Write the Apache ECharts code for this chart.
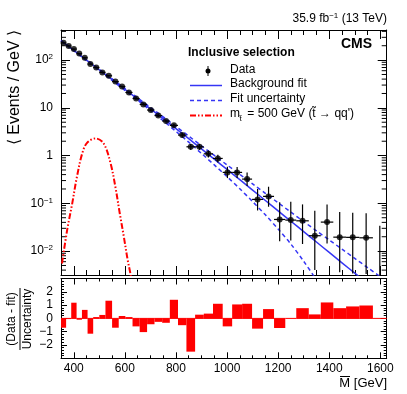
<!DOCTYPE html>
<html><head><meta charset="utf-8">
<script src="https://cdn.jsdelivr.net/npm/echarts@6/dist/echarts.min.js"></script>
<style>html,body{margin:0;padding:0;background:#fff}#c{width:407px;height:394px}</style>
</head><body><div id="c"></div>
<script>
// ---------- data ----------
const binEdges = [350, 370, 390, 411, 432, 454, 476, 500, 524, 550, 576, 602, 630, 658, 687, 716, 746, 776, 808, 841, 875, 909, 945, 983, 1020, 1059, 1098, 1141, 1184, 1228, 1271, 1320, 1367, 1416, 1466, 1518, 1571, 1625];
const dataVals = [230, 198, 170, 137, 112, 82.5, 70, 55.2, 47, 35.5, 28, 21, 15.7, 11.8, 9.0, 6.9, 5.3, 4.3, 2.69, 1.53, 1.53, 1.09, 0.873, 0.445, 0.445, 0.322, 0.121, 0.140, 0.046, 0.0446, 0.0431, 0.021, 0.0405, 0.0196, 0.0194, 0.019, 0];
const errDown = [3.4, 3.15, 2.85, 2.55, 2.26, 1.94, 1.71, 1.52, 1.34, 1.17, 1.04, 0.87, 0.75, 0.64, 0.56, 0.48, 0.42, 0.37, 0.285, 0.212, 0.212, 0.174, 0.152, 0.107, 0.105, 0.092, 0.050, 0.055, 0.030, 0.028, 0.029, 0.017, 0.026, 0.016, 0.016, 0.0157, 0];
const errUp = [3.4, 3.15, 2.85, 2.55, 2.26, 1.94, 1.71, 1.52, 1.34, 1.17, 1.04, 0.87, 0.75, 0.64, 0.56, 0.48, 0.42, 0.37, 0.3, 0.23, 0.23, 0.19, 0.17, 0.138, 0.133, 0.12, 0.079, 0.083, 0.060, 0.063, 0.052, 0.049, 0.054, 0.046, 0.044, 0.043, 0.034];
const pulls = [-0.7, -0.05, 1.18, -0.1, 0.64, -1.15, 0.1, 0.26, 1.33, -0.7, 0.18, 0.1, -0.6, -1.03, -0.44, -0.26, -0.33, 1.4, -0.51, -2.5, 0.28, 0.36, 1.1, -0.6, 1.05, 1.1, -0.77, 0.7, -0.72, 0, 0.77, 0.3, 1.2, 0.77, 0.9, 0.97, 0];

const fitMass = [350, 400, 450, 500, 550, 600, 650, 700, 750, 800, 850, 900, 950, 1000, 1050, 1100, 1150, 1200, 1250, 1300, 1350, 1400, 1450, 1500, 1550, 1600, 1650];
const fitVals = [254, 160, 100, 62.4, 39.1, 24.5, 15.3, 9.55, 5.96, 3.67, 2.26, 1.38, 0.841, 0.513, 0.313, 0.190, 0.115, 0.0695, 0.0422, 0.0256, 0.0155, 0.00938, 0.00569, 0.00345, 0.00209, 0.00126, 0.00077];
const fitUpVals = [260, 164, 102.8, 64.6, 40.7, 25.7, 16.2, 10.2, 6.50, 4.07, 2.57, 1.60, 1.01, 0.638, 0.403, 0.256, 0.162, 0.103, 0.0653, 0.0415, 0.0266, 0.0171, 0.0110, 0.00705, 0.00452, 0.0029, 0.00186];
const fitDownMass = [350, 400, 450, 500, 550, 600, 650, 700, 750, 800, 850, 900, 950, 1000, 1050, 1100, 1150, 1200, 1250, 1300, 1350, 1400];
const fitDownVals = [248, 157, 97.3, 60.3, 37.5, 23.3, 14.4, 8.81, 5.37, 3.21, 1.91, 1.11, 0.638, 0.363, 0.202, 0.109, 0.0575, 0.029, 0.0140, 0.00614, 0.00245, 0.000836];

const sigMass = [354, 374, 394, 411, 433, 452, 485, 517, 544, 563, 580, 596, 611, 622, 632];
const sigVals = [0.0055, 0.0275, 0.1, 0.33, 1.11, 1.85, 2.29, 1.8, 0.69, 0.22, 0.062, 0.020, 0.0065, 0.0033, 0.0015];

const xLabelTicks = [400, 600, 800, 1000, 1200, 1400, 1600];
const xMinorTicks = [350, 400, 450, 500, 550, 600, 650, 700, 750, 800, 850, 900, 950, 1000, 1050, 1100, 1150, 1200, 1250, 1300, 1350, 1400, 1450, 1500, 1550, 1600];
const yMinorTicks = [0.004, 0.005, 0.006, 0.007, 0.008, 0.009, 0.02, 0.03, 0.04, 0.05, 0.06, 0.07, 0.08, 0.09, 0.2, 0.3, 0.4, 0.5, 0.6, 0.7, 0.8, 0.9, 2, 3, 4, 5, 6, 7, 8, 9, 20, 30, 40, 50, 60, 70, 80, 90, 200, 300, 400];
const pullLabels = [-2, -1, 0, 1, 2];

// ---------- chart ----------
const FONT = '"Liberation Sans", Arial, Helvetica, sans-serif';
const X_MIN = 350, X_MAX = 1625, Y_MIN = 0.00316, Y_MAX = 427;
const BLUE = '#3535f5', RED = '#ff0000';

const centers = dataVals.map((v, i) => (binEdges[i] + binEdges[i + 1]) / 2);
const errData = dataVals.map((v, i) => [binEdges[i], binEdges[i + 1], centers[i], v, v - errDown[i], v + errUp[i]]);
const pointData = dataVals.map((v, i) => [centers[i], v]).filter(d => d[1] > 0);
const pullData = pulls.map((p, i) => [binEdges[i], binEdges[i + 1], p]);

function xAxisDef(gridIndex, position, tickVals, tickLen, showLine, labelVals) {
  return {
    type: 'value', gridIndex, position, min: X_MIN, max: X_MAX,
    axisLine: { show: showLine, onZero: false, lineStyle: { color: '#000', width: 1 } },
    axisTick: { show: true, inside: true, length: tickLen, customValues: tickVals, lineStyle: { color: '#000', width: 1 } },
    axisLabel: labelVals ? { show: true, customValues: labelVals, color: '#000', fontSize: 12, fontFamily: FONT, margin: 4,
      formatter: v => String(v) } : { show: false },
    splitLine: { show: false }
  };
}
function yLogDef(position, showLabels) {
  return {
    type: 'log', logBase: 10, gridIndex: 0, position, min: Y_MIN, max: Y_MAX,
    axisLine: { show: true, onZero: false, lineStyle: { color: '#000', width: 1 } },
    axisTick: { show: true, inside: true, length: 9, lineStyle: { color: '#000', width: 1 } },
    axisLabel: showLabels ? {
      show: true, showMinLabel: false, showMaxLabel: false, margin: 8, color: '#000',
      formatter: function (v) {
        const e = Math.round(Math.log10(v));
        if (e === 0) return '{b|1}';
        if (e === 1) return '{b|10}';
        return '{b|10}{s|' + (e < 0 ? '\u2212' : '') + Math.abs(e) + '}';
      },
      rich: {
        b: { fontSize: 12, fontFamily: FONT, color: '#000', lineHeight: 14 },
        s: { fontSize: 8, fontFamily: FONT, color: '#000', verticalAlign: 'top', lineHeight: 9 }
      }
    } : { show: false },
    splitLine: { show: false }
  };
}
function yPullDef(position, showLabels) {
  return {
    type: 'value', gridIndex: 1, position, min: -3, max: 3, interval: 1,
    axisLine: { show: true, onZero: false, lineStyle: { color: '#000', width: 1 } },
    axisTick: { show: true, inside: true, length: 6, lineStyle: { color: '#000', width: 1 } },
    minorTick: { show: true, splitNumber: 5, length: 3, lineStyle: { color: '#000', width: 1 } },
    axisLabel: showLabels ? { show: true, customValues: pullLabels, color: '#000', fontSize: 12, fontFamily: FONT, margin: 8,
      formatter: v => (v < 0 ? '\u2212' + (-v) : '' + v) } : { show: false },
    splitLine: { show: false }
  };
}

const option = {
  animation: false,
  backgroundColor: '#fff',
  textStyle: { fontFamily: FONT },
  grid: [
    { left: 61, top: 30, width: 325.7, height: 245 },
    { left: 61, top: 278.5, width: 325.7, height: 79.8 }
  ],
  xAxis: [
    xAxisDef(0, 'bottom', xMinorTicks, 5, true, null),
    xAxisDef(0, 'bottom', xLabelTicks, 9, false, null),
    xAxisDef(0, 'top', xMinorTicks, 5, true, null),
    xAxisDef(0, 'top', xLabelTicks, 9, false, null),
    xAxisDef(1, 'bottom', xMinorTicks, 3, true, xLabelTicks),
    xAxisDef(1, 'bottom', xLabelTicks, 6, false, null),
    xAxisDef(1, 'top', xMinorTicks, 3, true, null),
    xAxisDef(1, 'top', xLabelTicks, 6, false, null)
  ],
  yAxis: [
    yLogDef('left', true),
    yLogDef('right', false),
    yPullDef('left', true),
    yPullDef('right', false)
  ],
  series: [
    { // log minor ticks on both sides
      type: 'custom', xAxisIndex: 0, yAxisIndex: 0, silent: true, z: 1,
      data: yMinorTicks.map(v => [X_MIN, v]),
      encode: { x: 0, y: 1 },
      renderItem: function (params, api) {
        const cs = params.coordSys;
        const p = api.coord([X_MIN, api.value(1)]);
        if (p[1] < cs.y || p[1] > cs.y + cs.height) return null;
        return { type: 'group', children: [
          { type: 'line', shape: { x1: cs.x, y1: p[1], x2: cs.x + 5, y2: p[1] }, style: { stroke: '#000', lineWidth: 1 } },
          { type: 'line', shape: { x1: cs.x + cs.width - 5, y1: p[1], x2: cs.x + cs.width, y2: p[1] }, style: { stroke: '#000', lineWidth: 1 } }
        ] };
      }
    },
    { type: 'line', name: 'Fit uncertainty up', xAxisIndex: 0, yAxisIndex: 0, showSymbol: false, silent: true, clip: true,
      data: fitMass.map((m, i) => [m, fitUpVals[i]]), smooth: 0.3,
      lineStyle: { color: BLUE, width: 1.5, type: [4, 3] } },
    { type: 'line', name: 'Fit uncertainty down', xAxisIndex: 0, yAxisIndex: 0, showSymbol: false, silent: true, clip: true,
      data: fitDownMass.map((m, i) => [m, fitDownVals[i]]), smooth: 0.3,
      lineStyle: { color: BLUE, width: 1.5, type: [4, 3] } },
    { type: 'line', name: 'Background fit', xAxisIndex: 0, yAxisIndex: 0, showSymbol: false, silent: true, clip: true,
      data: fitMass.map((m, i) => [m, fitVals[i]]), smooth: 0.3,
      lineStyle: { color: BLUE, width: 1.5 } },
    { type: 'line', name: 'Signal', xAxisIndex: 0, yAxisIndex: 0, showSymbol: false, silent: true, clip: true,
      data: sigMass.map((m, i) => [m, sigVals[i]]), smooth: 0.35,
      lineStyle: { color: RED, width: 2, type: [6, 2, 1.5, 2, 1.5, 2] } },
    { // data error bars
      type: 'custom', xAxisIndex: 0, yAxisIndex: 0, silent: true, z: 4,
      data: errData, encode: { x: 2, y: 5 },
      renderItem: function (params, api) {
        const cs = params.coordSys;
        const cl = py => Math.max(cs.y, Math.min(cs.y + cs.height, py));
        const xc = api.value(2), y = api.value(3), lo = api.value(4), hi = api.value(5);
        const pHi = api.coord([xc, hi]);
        const yLo = lo > 0 ? api.coord([xc, lo])[1] : cs.y + cs.height;
        const kids = [{ type: 'line', shape: { x1: pHi[0], y1: cl(pHi[1]), x2: pHi[0], y2: cl(yLo) }, style: { stroke: '#000', lineWidth: 1.2 } }];
        if (y > 0) {
          const a = api.coord([api.value(0), y]), b = api.coord([api.value(1), y]);
          kids.push({ type: 'line', shape: { x1: a[0], y1: a[1], x2: b[0], y2: b[1] }, style: { stroke: '#000', lineWidth: 1.2 } });
        }
        return { type: 'group', children: kids };
      }
    },
    { type: 'scatter', name: 'Data', xAxisIndex: 0, yAxisIndex: 0, silent: true, z: 5,
      data: pointData, symbol: 'circle', symbolSize: 6, itemStyle: { color: '#000' } },
    { // pull histogram
      type: 'custom', xAxisIndex: 4, yAxisIndex: 2, silent: true,
      data: pullData, encode: { x: [0, 1], y: 2 },
      renderItem: function (params, api) {
        const a = api.coord([api.value(0), 0]);
        const b = api.coord([api.value(1), api.value(2)]);
        const top = Math.min(a[1], b[1]), h = Math.abs(b[1] - a[1]);
        return { type: 'group', children: [
          { type: 'rect', shape: { x: a[0], y: top, width: b[0] - a[0], height: h }, style: { fill: RED } },
          { type: 'line', shape: { x1: a[0], y1: a[1], x2: b[0], y2: a[1] }, style: { stroke: RED, lineWidth: 1 } }
        ] };
      }
    }
  ],
  graphic: [
    { type: 'text', x: 387, y: 19, style: { text: '{n|35.9 fb}{s|\u22121}{n| (13 TeV)}', textAlign: 'right', textVerticalAlign: 'middle',
      rich: { n: { fontSize: 12, fontFamily: FONT, fill: '#000', lineHeight: 14 }, s: { fontSize: 8, fontFamily: FONT, fill: '#000', verticalAlign: 'top', lineHeight: 9 } } } },
    { type: 'text', x: 372, y: 44, style: { text: 'CMS', font: 'bold 14px ' + FONT, fill: '#000', textAlign: 'right', textVerticalAlign: 'middle' } },
    { type: 'text', x: 188, y: 53, style: { text: 'Inclusive selection', font: 'bold 12px ' + FONT, fill: '#000', textAlign: 'left', textVerticalAlign: 'middle' } },
    // legend: Data
    { type: 'line', shape: { x1: 208, y1: 66, x2: 208, y2: 76 }, style: { stroke: '#000', lineWidth: 1 } },
    { type: 'circle', shape: { cx: 208, cy: 71, r: 2.5 }, style: { fill: '#000' } },
    { type: 'text', x: 230, y: 69.5, style: { text: 'Data', font: '12px ' + FONT, fill: '#000', textAlign: 'left', textVerticalAlign: 'middle' } },
    // Background fit
    { type: 'line', shape: { x1: 190, y1: 85.5, x2: 222, y2: 85.5 }, style: { stroke: BLUE, lineWidth: 1.5 } },
    { type: 'text', x: 230, y: 84, style: { text: 'Background fit', font: '12px ' + FONT, fill: '#000', textAlign: 'left', textVerticalAlign: 'middle' } },
    // Fit uncertainty
    { type: 'line', shape: { x1: 190, y1: 100.5, x2: 222, y2: 100.5 }, style: { stroke: BLUE, lineWidth: 1.5, lineDash: [4, 3] } },
    { type: 'text', x: 230, y: 99, style: { text: 'Fit uncertainty', font: '12px ' + FONT, fill: '#000', textAlign: 'left', textVerticalAlign: 'middle' } },
    // Signal
    { type: 'line', shape: { x1: 190, y1: 115.5, x2: 222, y2: 115.5 }, style: { stroke: RED, lineWidth: 2, lineDash: [6, 2, 1.5, 2, 1.5, 2] } },
    { type: 'text', x: 230, y: 114, style: { text: 'm', font: '12px ' + FONT, fill: '#000', textAlign: 'left', textVerticalAlign: 'middle' } },
    { type: 'text', x: 239.5, y: 119, style: { text: 't\u0303', font: '8px ' + FONT, fill: '#000', textAlign: 'left', textVerticalAlign: 'middle' } },
    { type: 'text', x: 244, y: 114, style: { text: ' = 500 GeV (t\u0303 \u2192 qq\')', font: '12px ' + FONT, fill: '#000', textAlign: 'left', textVerticalAlign: 'middle' } },
    // axis titles
    { type: 'text', x: 15, y: 30, rotation: Math.PI / 2, style: { text: '\u27E8 Events / GeV \u27E9', font: '16px ' + FONT, fill: '#000', textAlign: 'right', textVerticalAlign: 'middle' } },
    { type: 'text', x: 12, y: 319, rotation: Math.PI / 2, style: { text: '(Data - fit)', font: '12px ' + FONT, fill: '#000', textAlign: 'center', textVerticalAlign: 'middle' } },
    { type: 'line', shape: { x1: 20, y1: 288, x2: 20, y2: 350 }, style: { stroke: '#000', lineWidth: 1 } },
    { type: 'text', x: 28, y: 319, rotation: Math.PI / 2, style: { text: 'Uncertainty', font: '12px ' + FONT, fill: '#000', textAlign: 'center', textVerticalAlign: 'middle' } },
    { type: 'text', x: 387, y: 383, style: { text: 'M [GeV]', font: '13px ' + FONT, fill: '#000', textAlign: 'right', textVerticalAlign: 'middle' } },
    { type: 'line', shape: { x1: 340, y1: 376.5, x2: 350, y2: 376.5 }, style: { stroke: '#000', lineWidth: 1 } }
  ]
};
const chart = echarts.init(document.getElementById('c'), null, { renderer: 'canvas', width: 407, height: 394 });
chart.setOption(option);
</script>
</body></html>
